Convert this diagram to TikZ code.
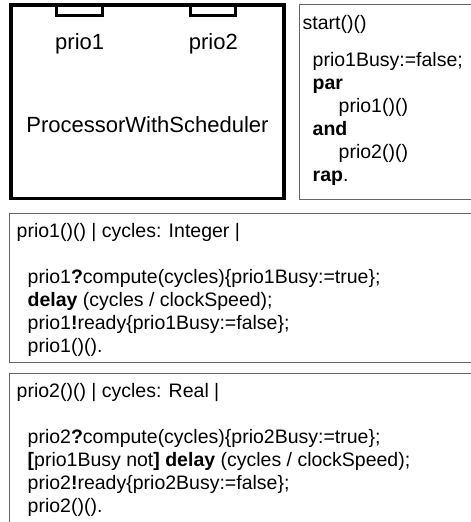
\documentclass[tikz,border=0pt]{standalone}
\usepackage{fontspec}
\setmainfont{Liberation Sans}
\begin{document}
\begin{tikzpicture}[x=1pt,y=-1pt,
  procline/.style={draw=black,line width=3.5pt},
  portline/.style={draw=black,line width=3pt},
  frameline/.style={draw=black!60,line width=1pt},
  lbl/.style={anchor=base,inner sep=0pt,font=\fontsize{22}{26}\selectfont},
  code/.style={anchor=base west,inner sep=0pt,font=\fontsize{19.5}{23}\selectfont}]
\useasboundingbox (0,0) rectangle (471,522);
\clip (0,0) rectangle (471,522);

% processor with its two ports
\draw[procline] (10.8,5) rectangle (283.8,198.3);
\draw[portline] (56.5,5) rectangle (102.8,15.5);
\draw[portline] (190.5,5) rectangle (235.8,15.5);
\node[lbl] (p1lbl) at (79.7,49) {prio1};
\node[lbl] (p2lbl) at (213.3,49) {prio2};
\node[lbl] (proc) at (147.5,132) {ProcessorWithScheduler};

% start process
\draw[frameline] (299.5,4) rectangle (480,199.5);
\node[code] (s0) at (302.5,29) {start()()};
\node[code] (s1) at (312.5,66) {prio1Busy:=false;};
\node[code] (s2) at (312.5,89) {\textbf{par}};
\node[code] (s3) at (338.5,112) {prio1()()};
\node[code] (s4) at (312.5,135) {\textbf{and}};
\node[code] (s5) at (338.5,158) {prio2()()};
\node[code] (s6) at (312.5,181) {\textbf{rap}.};

% prio1 process
\draw[frameline] (9.5,213.5) rectangle (480,362.5);
\node[code] (a0) at (16.5,237) {prio1()() | cycles: Integer |};
\node[code] (a1) at (27.5,283) {prio1\textbf{?}compute(cycles)\{prio1Busy:=true\};};
\node[code] (a2) at (27.5,306) {\textbf{delay} (cycles / clockSpeed);};
\node[code] (a3) at (27.5,329) {prio1\textbf{!}ready\{prio1Busy:=false\};};
\node[code] (a4) at (27.5,352) {prio1()().};

% prio2 process
\draw[frameline] (9.5,373.5) rectangle (480,540);
\node[code] (b0) at (16.5,397) {prio2()() | cycles: Real |};
\node[code] (b1) at (27.5,443) {prio2\textbf{?}compute(cycles)\{prio2Busy:=true\};};
\node[code] (b2) at (27.5,466) {\textbf{[}prio1Busy not\textbf{]} \textbf{delay} (cycles / clockSpeed);};
\node[code] (b3) at (27.5,489) {prio2\textbf{!}ready\{prio2Busy:=false\};};
\node[code] (b4) at (27.5,512) {prio2()().};
\end{tikzpicture}
\end{document}
